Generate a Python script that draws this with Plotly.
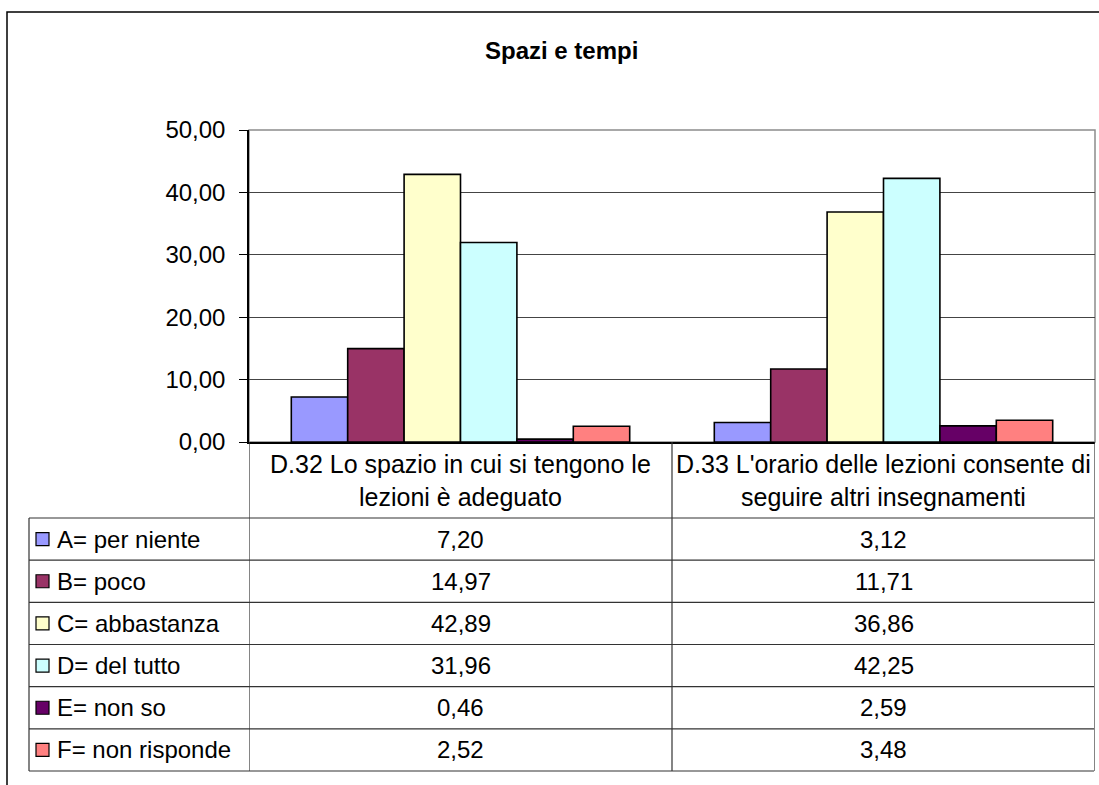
import plotly.graph_objects as go

# ---- data ----
categories = ["D.32 Lo spazio in cui si tengono le\nlezioni è adeguato",
              "D.33 L'orario delle lezioni consente di\nseguire altri insegnamenti"]
series_names = ["A= per niente", "B= poco", "C= abbastanza",
                "D= del tutto", "E= non so", "F= non risponde"]
vals_A = [7.20, 3.12]
vals_B = [14.97, 11.71]
vals_C = [42.89, 36.86]
vals_D = [31.96, 42.25]
vals_E = [0.46, 2.59]
vals_F = [2.52, 3.48]
series_values = [vals_A, vals_B, vals_C, vals_D, vals_E, vals_F]
series_colors = ["#9999FF", "#993366", "#FFFFCC", "#CCFFFF", "#660066", "#FF8080"]
y_ticks = [0, 10, 20, 30, 40, 50]
title = "Spazi e tempi"

# ---- geometry (pixels) ----
W, H = 1099, 785
PL, PR, PT, PB = 249, 1095, 130, 442
FONT = "Liberation Sans, Arial, sans-serif"
FS = 24
FS_CAT = 25


def xp(px):
    return (px - PL) / (PR - PL)


def yp(py):
    return (PB - py) / (PB - PT)


fig = go.Figure()
xidx = list(range(len(categories)))
for name, v, c in zip(series_names, series_values, series_colors):
    fig.add_trace(go.Bar(x=xidx, y=v, name=name, marker=dict(color=c, line=dict(color="black", width=1.6)),
                         showlegend=False, hoverinfo="skip"))

shapes = []
annotations = []

# outer frame
shapes.append(dict(type="rect", xref="paper", yref="paper", x0=xp(7), x1=xp(1130), y0=yp(12), y1=yp(820),
                   line=dict(color="black", width=1.5), layer="below"))
# plot area border (top/right gray)
shapes.append(dict(type="rect", xref="paper", yref="paper", x0=0, x1=1, y0=0, y1=1,
                   line=dict(color="#8c8c8c", width=1.5), layer="below"))

# table
row_top = 518
row_h = (771 - 518) / len(series_names)
tbl_left, tbl_right = 29, 1094
line_style = dict(color="#333333", width=1.2)
for i in range(len(series_names) + 1):
    y = yp(row_top + i * row_h)
    shapes.append(dict(type="line", xref="paper", yref="paper", x0=xp(tbl_left), x1=xp(tbl_right),
                       y0=y, y1=y, line=line_style))
shapes.append(dict(type="line", xref="paper", yref="paper", x0=xp(tbl_left), x1=xp(tbl_left),
                   y0=yp(row_top), y1=yp(771), line=line_style))
for k in range(len(categories) + 1):
    shapes.append(dict(type="line", xref="x", yref="paper", x0=k - 0.5, x1=k - 0.5,
                       y0=0, y1=yp(771), line=line_style))

# category labels
for k, cat in enumerate(categories):
    for j, ln in enumerate(cat.split("\n")):
        annotations.append(dict(xref="x", yref="paper", x=k, y=yp(464 + j * 33), text=ln,
                                showarrow=False, xanchor="center", yanchor="middle",
                                font=dict(family=FONT, size=FS_CAT, color="black")))

# rows
for i, (name, v, c) in enumerate(zip(series_names, series_values, series_colors)):
    cy = row_top + (i + 0.5) * row_h
    shapes.append(dict(type="rect", xref="paper", yref="paper", x0=xp(36), x1=xp(49),
                       y0=yp(cy - 6.5), y1=yp(cy + 6.5), fillcolor=c,
                       line=dict(color="black", width=1.2)))
    annotations.append(dict(xref="paper", yref="paper", x=xp(55), y=yp(cy), text=name,
                            showarrow=False, xanchor="left", yanchor="middle",
                            font=dict(family=FONT, size=FS, color="black")))
    for k, val in enumerate(v):
        annotations.append(dict(xref="x", yref="paper", x=k, y=yp(cy),
                                text=f"{val:.2f}".replace(".", ","),
                                showarrow=False, xanchor="center", yanchor="middle",
                                font=dict(family=FONT, size=FS, color="black")))

# title
annotations.append(dict(xref="paper", yref="paper", x=xp(561), y=yp(50), text=f"<b>{title}</b>",
                        showarrow=False, xanchor="center", yanchor="middle",
                        font=dict(family=FONT, size=FS, color="black")))

fig.update_layout(
    width=W, height=H,
    margin=dict(l=PL, r=W - PR, t=PT, b=H - PB, pad=0),
    paper_bgcolor="white", plot_bgcolor="white",
    barmode="group", bargap=0.2, bargroupgap=0,
    separators=",.",
    shapes=shapes, annotations=annotations,
    font=dict(family=FONT, size=FS, color="black"),
)
fig.update_xaxes(type="linear", range=[-0.5, len(categories) - 0.5], showticklabels=False,
                 showgrid=False, zeroline=False, showline=True, linecolor="black", linewidth=1.5,
                 ticks="")
fig.update_yaxes(range=[0, 50], tickvals=y_ticks, tickformat=".2f", showgrid=True,
                 gridcolor="#444444", gridwidth=1, zeroline=False, showline=True,
                 linecolor="black", linewidth=1.5, ticks="outside", ticklen=8, tickcolor="black",
                 ticklabelstandoff=9, tickfont=dict(family=FONT, size=FS, color="black"))

fig.write_html("out.html", config={"displayModeBar": False},
               post_script="document.body.style.margin='0';document.body.style.overflow='hidden';")
